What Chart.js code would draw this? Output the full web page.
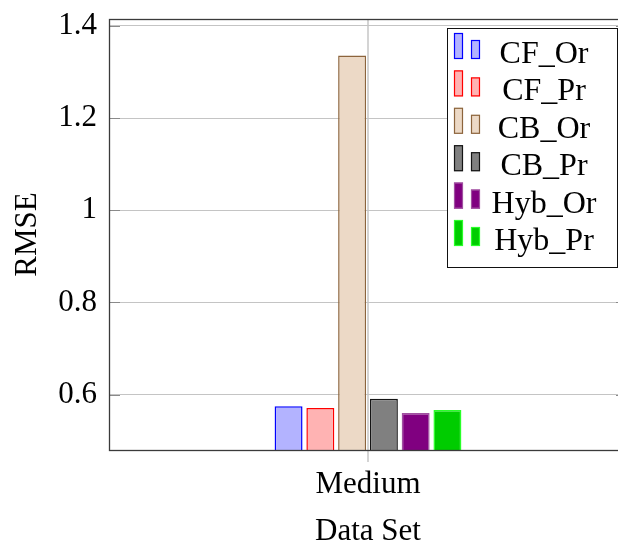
<!DOCTYPE html>
<html>
<head>
<meta charset="utf-8">
<script src="https://cdn.jsdelivr.net/npm/chart.js@4.4.1/dist/chart.umd.min.js"></script>
<style>
  html, body { margin: 0; padding: 0; background: #ffffff; overflow: hidden; }
  #wrap { width: 618px; height: 542px; overflow: hidden; position: relative; }
  canvas { display: block; }
</style>
</head>
<body>
<div id="wrap"><canvas id="c" width="640" height="560"></canvas></div>
<script>
// ---- data ----
const categories = ['Medium'];
const seriesNames = ['CF_Or', 'CF_Pr', 'CB_Or', 'CB_Pr', 'Hyb_Or', 'Hyb_Pr'];
const cfOr  = [0.575];
const cfPr  = [0.571];
const cbOr  = [1.336];
const cbPr  = [0.591];
const hybOr = [0.560];
const hybPr = [0.567];
const yTicks = [0.6, 0.8, 1, 1.2, 1.4];
const yMin = 0.48;
const yMax = 1.415;
const xTitle = 'Data Set';
const yTitle = 'RMSE';

// ---- styles ----
const FONT = "'Liberation Serif', 'DejaVu Serif', serif";
const FSIZE = 31;
const fills   = ['rgb(179,179,255)', 'rgb(255,179,179)', 'rgb(236,217,198)', 'rgb(128,128,128)', 'rgb(128,0,128)', 'rgb(0,204,0)'];
const borders = ['rgb(0,0,255)', 'rgb(255,0,0)', 'rgb(140,100,60)', 'rgb(20,20,20)', 'rgb(160,80,160)', 'rgb(40,255,40)'];
const seriesValues = [cfOr, cfPr, cbOr, cbPr, hybOr, hybPr];

const datasets = seriesNames.map((name, i) => ({
  label: name,
  data: seriesValues[i],
  backgroundColor: fills[i],
  borderColor: borders[i],
  borderWidth: 1.5,
  borderSkipped: false,
  barPercentage: 0.88,
  categoryPercentage: 0.368
}));

const framePlugin = {
  id: 'frame',
  afterDatasetsDraw(chart) {
    const { ctx, chartArea: a } = chart;
    const y = chart.scales.y;
    ctx.save();
    ctx.strokeStyle = '#8a8a8a';
    ctx.lineWidth = 1.2;
    yTicks.forEach(v => {
      const py = Math.round(y.getPixelForValue(v)) + 0.5;
      ctx.beginPath();
      ctx.moveTo(a.left, py); ctx.lineTo(a.left + 11, py);
      ctx.moveTo(a.right, py); ctx.lineTo(a.right - 11, py);
      ctx.stroke();
    });
    ctx.strokeStyle = '#3a3a3a';
    ctx.lineWidth = 1.3;
    ctx.strokeRect(Math.round(a.left) + 0.5, Math.round(a.top) + 0.5,
                   Math.round(a.right - a.left), Math.round(a.bottom - a.top));
    ctx.restore();
  }
};

const legendPlugin = {
  id: 'boxLegend',
  afterDraw(chart) {
    const { ctx } = chart;
    const bx = 447, by = 28, bw = 170, bh = 239;
    ctx.save();
    ctx.fillStyle = '#ffffff';
    ctx.fillRect(bx, by, bw, bh);
    ctx.strokeStyle = '#111';
    ctx.lineWidth = 1;
    ctx.strokeRect(bx + 0.5, by + 0.5, bw, bh);
    ctx.font = '32px ' + FONT;
    ctx.textAlign = 'center';
    ctx.textBaseline = 'alphabetic';
    chart.data.datasets.forEach((ds, i) => {
      const base = 63 + i * 37.4;
      const bot = base - 4;
      ctx.fillStyle = ds.backgroundColor;
      ctx.strokeStyle = ds.borderColor;
      ctx.lineWidth = 1.2;
      ctx.fillRect(454, bot - 26, 9, 26);
      ctx.strokeRect(454.5, bot - 25.5, 8, 25);
      ctx.fillRect(471, bot - 19, 9, 19);
      ctx.strokeRect(471.5, bot - 18.5, 8, 18);
      ctx.fillStyle = '#000';
      ctx.fillText(ds.label, 544, base);
    });
    ctx.restore();
  }
};

new Chart(document.getElementById('c'), {
  type: 'bar',
  data: { labels: categories, datasets },
  plugins: [framePlugin, legendPlugin],
  options: {
    responsive: false,
    animation: false,
    devicePixelRatio: 1,
    layout: { padding: { left: 0, right: 13, top: 19, bottom: 0 } },
    plugins: { legend: { display: false }, tooltip: { enabled: false } },
    scales: {
      x: {
        offset: true,
        grid: { offset: false, color: '#d4d4d4', lineWidth: 2, drawTicks: true, tickLength: 12, tickColor: '#d4d4d4' },
        border: { display: false },
        ticks: { color: '#000', font: { family: FONT, size: FSIZE }, padding: 4 },
        title: { display: true, text: xTitle, color: '#000', font: { family: FONT, size: FSIZE, lineHeight: 1.2 }, padding: { top: 0, bottom: 10 } },
        afterFit(scale) { scale.height = 110; scale.paddingLeft = 0; scale.paddingRight = 0; }
      },
      y: {
        min: yMin,
        max: yMax,
        afterBuildTicks(scale) { scale.ticks = yTicks.map(v => ({ value: v })); },
        grid: { color: '#c4c4c4', lineWidth: 1, drawTicks: false },
        border: { display: false },
        ticks: { color: '#000', font: { family: FONT, size: FSIZE }, padding: 12, callback: v => String(v) },
        title: { display: true, text: yTitle, color: '#000', font: { family: FONT, size: FSIZE, lineHeight: 1.2 }, padding: { top: 9, bottom: 0 } },
        afterFit(scale) { scale.width = 109; scale.paddingTop = 0; scale.paddingBottom = 0; }
      }
    }
  }
});
</script>
</body>
</html>
